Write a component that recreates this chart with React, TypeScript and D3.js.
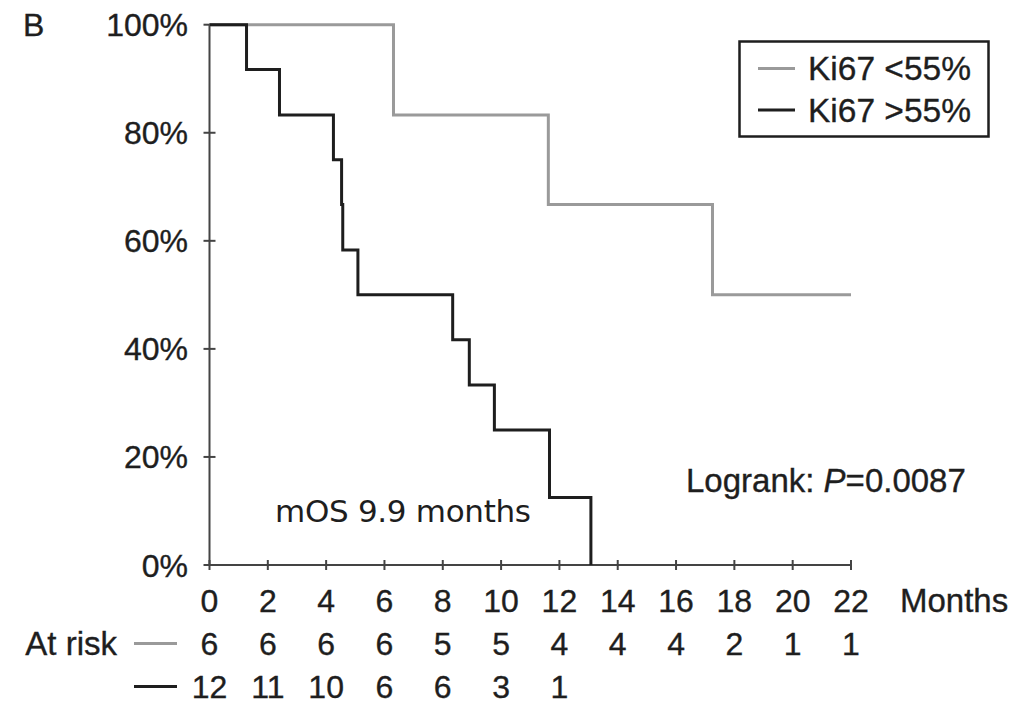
import { useEffect, useRef } from "react";
import * as d3 from "d3";

// Kaplan-Meier steps (months, % surviving)
const lowTimes = [0, 6.31, 11.62, 17.25, 22];
const lowSurv = [100, 83.3, 66.7, 50, 50];
const highTimes = [0, 1.27, 2.4, 4.25, 4.53, 4.57, 5.09, 8.34, 8.91, 9.77, 11.66, 13.08];
const highSurv = [100, 91.7, 83.3, 75, 66.7, 58.3, 50, 41.7, 33.3, 25, 12.5, 0];

const monthTicks = [0, 2, 4, 6, 8, 10, 12, 14, 16, 18, 20, 22];
const pctTicks = [0, 20, 40, 60, 80, 100];
const lowAtRisk = [6, 6, 6, 6, 5, 5, 4, 4, 4, 2, 1, 1];
const highAtRisk = [12, 11, 10, 6, 6, 3, 1];

const legendLabels = ["Ki67 <55%", "Ki67 >55%"];
const GRAY = "#9a9a9a";
const DARK = "#1e1e1e";
const FONT = "'Liberation Sans', Arial, Helvetica, sans-serif";

const App = () => {
  const svgRef = useRef<SVGSVGElement>(null);

  useEffect(() => {
    const svg = d3.select(svgRef.current);
    svg.selectAll("*").remove();

    const x = d3.scaleLinear().domain([0, 22]).range([209.5, 851]);
    const y = d3.scaleLinear().domain([0, 100]).range([565, 24.7]);

    const g = svg
      .append("g")
      .style("font-family", FONT)
      .attr("fill", DARK);
    // text a touch heavier, like the scanned figure
    const txt = (sel: any) => sel.attr("stroke", DARK).attr("stroke-width", 0.35);

    // axes, ticks cross the line
    g.append("line")
      .attr("x1", x(0)).attr("x2", x(0))
      .attr("y1", y(0)).attr("y2", y(100))
      .attr("stroke", "#444").attr("stroke-width", 2);
    g.append("line")
      .attr("x1", x(0)).attr("x2", x(22))
      .attr("y1", y(0)).attr("y2", y(0))
      .attr("stroke", "#444").attr("stroke-width", 2);

    g.selectAll(".ytick")
      .data(pctTicks)
      .join("line")
      .attr("x1", x(0) - 6).attr("x2", x(0) + 6)
      .attr("y1", (d) => y(d)).attr("y2", (d) => y(d))
      .attr("stroke", "#444").attr("stroke-width", 2);
    g.selectAll(".ylab")
      .data(pctTicks)
      .join("text")
      .attr("x", 188)
      .attr("y", (d) => y(d))
      .attr("dy", "0.36em")
      .attr("text-anchor", "end")
      .attr("font-size", 32)
      .call(txt)
      .text((d) => d + "%");

    g.selectAll(".xtick")
      .data(monthTicks)
      .join("line")
      .attr("x1", (d) => x(d)).attr("x2", (d) => x(d))
      .attr("y1", y(0) - 5).attr("y2", y(0) + 5)
      .attr("stroke", "#444").attr("stroke-width", 2);
    g.selectAll(".xlab")
      .data(monthTicks)
      .join("text")
      .attr("x", (d) => x(d))
      .attr("y", 611.5)
      .attr("text-anchor", "middle")
      .attr("font-size", 32)
      .call(txt)
      .text((d) => d);
    g.append("text")
      .attr("x", 900).attr("y", 611.5)
      .attr("font-size", 33)
      .call(txt)
      .text("Months");

    g.append("text").attr("x", 23).attr("y", 36).attr("font-size", 32).call(txt).text("B");

    // survival curves
    const line = d3
      .line<[number, number]>()
      .x((d) => x(d[0]))
      .y((d) => y(d[1]))
      .curve(d3.curveStepAfter);
    const lowPts = lowTimes.map((t, i) => [t, lowSurv[i]] as [number, number]);
    const highPts = highTimes.map((t, i) => [t, highSurv[i]] as [number, number]);

    g.append("path")
      .attr("d", line(lowPts))
      .attr("fill", "none").attr("stroke", GRAY).attr("stroke-width", 3);
    g.append("path")
      .attr("d", line(highPts))
      .attr("fill", "none").attr("stroke", DARK).attr("stroke-width", 3);

    // legend
    g.append("rect")
      .attr("x", 739.5).attr("y", 41.5)
      .attr("width", 249).attr("height", 95)
      .attr("fill", "none").attr("stroke", DARK).attr("stroke-width", 2.5);
    const legColors = [GRAY, DARK];
    legendLabels.forEach((lab, i) => {
      const ly = 68.5 + i * 41.5;
      g.append("line")
        .attr("x1", 758).attr("x2", 795)
        .attr("y1", ly).attr("y2", ly)
        .attr("stroke", legColors[i]).attr("stroke-width", 3);
      g.append("text")
        .attr("x", 808).attr("y", ly + 11.8)
        .attr("font-size", 33.5)
        .call(txt)
        .text(lab);
    });

    // annotations
    const lr = g
      .append("text")
      .attr("x", 686).attr("y", 491.5)
      .attr("font-size", 33)
      .call(txt);
    lr.append("tspan").text("Logrank: ");
    lr.append("tspan").attr("font-style", "italic").text("P");
    lr.append("tspan").text("=0.0087");

    g.append("text")
      .attr("x", 275).attr("y", 521.5)
      .attr("font-family", "'DejaVu Sans', sans-serif")
      .attr("font-size", 31)
      .attr("textLength", 256)
      .text("mOS 9.9 months");

    // numbers at risk
    g.append("text")
      .attr("x", 117).attr("y", 655)
      .attr("text-anchor", "end")
      .attr("font-size", 33)
      .call(txt)
      .text("At risk");
    g.append("line")
      .attr("x1", 134).attr("x2", 177).attr("y1", 643.5).attr("y2", 643.5)
      .attr("stroke", GRAY).attr("stroke-width", 3);
    g.append("line")
      .attr("x1", 134).attr("x2", 177).attr("y1", 686.5).attr("y2", 686.5)
      .attr("stroke", DARK).attr("stroke-width", 3);
    g.selectAll(".risk1")
      .data(lowAtRisk)
      .join("text")
      .attr("x", (_, i) => x(monthTicks[i]))
      .attr("y", 655)
      .attr("text-anchor", "middle")
      .attr("font-size", 32)
      .call(txt)
      .text((d) => d);
    g.selectAll(".risk2")
      .data(highAtRisk)
      .join("text")
      .attr("x", (_, i) => x(monthTicks[i]))
      .attr("y", 697.5)
      .attr("text-anchor", "middle")
      .attr("font-size", 32)
      .call(txt)
      .text((d) => d);
  }, []);

  return (
    <svg
      ref={svgRef}
      width={1025}
      height={701}
      style={{ position: "absolute", left: 0, top: 0, background: "#fff" }}
    ></svg>
  );
};

export default App;
